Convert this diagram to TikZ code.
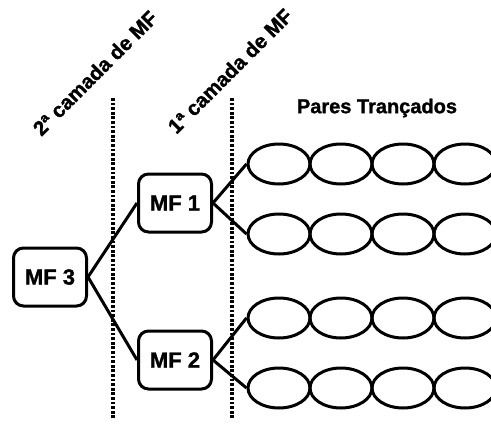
\documentclass[tikz,border=0pt]{standalone}
\usepackage{fontspec}
\setmainfont{Liberation Sans}
\newfontfamily\heavy[FakeBold=1.3]{Liberation Sans Bold}
\usetikzlibrary{shapes.geometric}
\begin{document}
\begin{tikzpicture}[x=1pt,y=-1pt,
  mfbox/.style={draw,line width=3pt,rounded corners=10pt,minimum width=73pt,minimum height=58pt,inner sep=0pt,font=\fontsize{22}{24}\selectfont\heavy},
  twist/.style={draw,ellipse,line width=3pt,minimum width=62pt,minimum height=40pt,inner sep=0pt},
  wire/.style={line width=3pt},
  sep/.style={line width=3.4pt,dash pattern=on 2.8pt off 1.8pt},
  layer/.style={rotate=45,font=\fontsize{20.5}{22}\selectfont\heavy}]
\useasboundingbox (0,0) rectangle (491,434);
% separators
\coordinate (s1t) at (113,98); \coordinate (s1b) at (113,418);
\coordinate (s2t) at (232,98); \coordinate (s2b) at (232,418);
\draw[sep] (s1t) -- (s1b);
\draw[sep] (s2t) -- (s2b);
% labels
\node[layer] (l2) at (95,73) {2ª camada de MF};
\node[layer] (l1) at (230,71) {1ª camada de MF};
\node[font=\fontsize{20}{22}\selectfont\heavy] (pt) at (377,108) {Pares Trançados};
% boxes
\node[mfbox] (mf3) at (50,277) {MF 3};
\node[mfbox] (mf1) at (175,203) {MF 1};
\node[mfbox] (mf2) at (175,360) {MF 2};
% twisted pairs
\foreach \r/\y in {1/164,2/234,3/318,4/388}{
  \foreach \c/\x in {1/279,2/341,3/403,4/465}{
    \node[twist] (e\r\c) at (\x,\y) {};
  }
}
% connectors
\draw[wire] (mf3.east) -- (mf1.west);
\draw[wire] (mf3.east) -- (mf2.west);
\draw[wire] (mf1.east) -- (e11.west);
\draw[wire] (mf1.east) -- (e21.west);
\draw[wire] (mf2.east) -- (e31.west);
\draw[wire] (mf2.east) -- (e41.west);
\end{tikzpicture}
\end{document}
